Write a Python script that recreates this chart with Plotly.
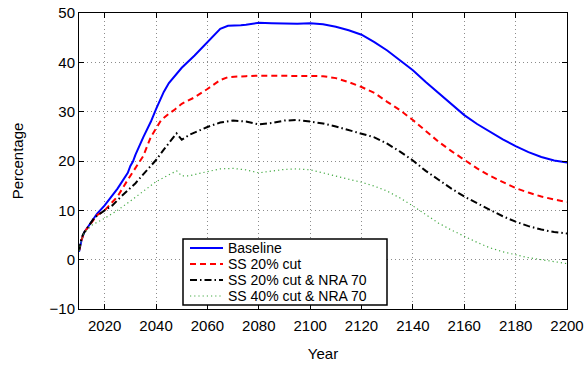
import plotly.graph_objects as go

# ---- Data -----------------------------------------------------------------
baseline_years = [2010, 2011, 2012, 2014, 2017, 2020, 2025, 2029, 2030, 2031, 2032,
                  2035, 2038, 2040, 2043, 2045, 2048, 2050, 2055, 2060, 2063, 2065,
                  2068, 2070, 2073, 2075, 2078, 2080, 2085, 2090, 2095, 2100, 2105,
                  2110, 2115, 2120, 2125, 2130, 2135, 2140, 2145, 2150, 2155, 2160,
                  2165, 2170, 2175, 2180, 2185, 2190, 2195, 2200]
baseline = [1.6, 4.0, 5.5, 7.0, 9.3, 11.0, 14.4, 17.6, 19.0, 19.9, 21.3,
            24.8, 28.0, 30.5, 34.0, 35.8, 37.8, 38.9, 41.4, 44.1, 45.8, 46.8,
            47.4, 47.4, 47.5, 47.6, 47.9, 48.0, 47.9, 47.8, 47.8, 47.9, 47.7,
            47.2, 46.5, 45.6, 44.1, 42.4, 40.4, 38.4, 36.0, 33.8, 31.5, 29.3,
            27.5, 25.9, 24.4, 23.0, 21.8, 20.8, 20.1, 19.7]

cut20_years = [2010, 2011, 2012, 2014, 2017, 2020, 2025, 2029, 2033, 2035, 2038,
               2040, 2042, 2045, 2047, 2050, 2053, 2055, 2060, 2065, 2068, 2070,
               2075, 2080, 2090, 2100, 2105, 2110, 2115, 2120, 2125, 2130, 2135,
               2140, 2145, 2150, 2155, 2160, 2165, 2170, 2175, 2180, 2185, 2190,
               2195, 2200]
cut20 = [1.8, 4.0, 5.5, 7.0, 9.0, 10.0, 12.8, 16.2, 19.5, 21.0, 24.9,
         26.5, 28.3, 29.6, 30.3, 31.6, 32.4, 32.9, 34.6, 36.4, 37.0, 37.1,
         37.2, 37.3, 37.3, 37.3, 37.2, 36.8, 36.0, 35.0, 33.8, 32.0, 30.3,
         28.3, 26.0, 23.9, 22.0, 20.2, 18.5, 17.0, 15.7, 14.5, 13.6, 12.8,
         12.2, 11.7]

cut20_nra70_years = [2010, 2011, 2012, 2014, 2016, 2020, 2023, 2026, 2029, 2032,
                     2035, 2040, 2043, 2046, 2048, 2050, 2053, 2060, 2065, 2070,
                     2075, 2080, 2085, 2090, 2095, 2100, 2105, 2110, 2115, 2120,
                     2125, 2130, 2135, 2140, 2145, 2150, 2155, 2160, 2165, 2170,
                     2175, 2180, 2185, 2190, 2195, 2200]
cut20_nra70 = [1.8, 4.5, 5.5, 7.0, 8.5, 10.0, 11.0, 12.6, 14.0, 15.5,
               17.3, 20.2, 22.3, 24.4, 25.6, 24.3, 25.3, 26.9, 27.8, 28.2,
               28.0, 27.4, 27.7, 28.2, 28.3, 28.0, 27.6, 27.0, 26.3, 25.6,
               24.8, 23.5, 21.9, 20.1, 18.0, 16.2, 14.4, 12.8, 11.4, 10.1,
               8.8, 7.7, 6.8, 6.1, 5.6, 5.3]

cut40_nra70_years = [2010, 2011, 2012, 2015, 2020, 2025, 2030, 2035, 2040, 2045,
                     2048, 2050, 2053, 2057, 2060, 2065, 2070, 2075, 2080, 2085,
                     2090, 2095, 2100, 2105, 2110, 2115, 2120, 2125, 2130, 2135,
                     2140, 2145, 2150, 2155, 2160, 2165, 2170, 2175, 2180, 2185,
                     2190, 2195, 2200]
cut40_nra70 = [1.8, 4.0, 5.4, 7.0, 8.4, 10.0, 11.9, 13.9, 15.8, 17.2,
               18.0, 17.0, 17.0, 17.5, 17.8, 18.4, 18.5, 18.2, 17.6, 17.9,
               18.3, 18.4, 18.2, 17.6, 16.9, 16.3, 15.7, 14.9, 13.9, 12.5,
               10.9, 9.1, 7.4, 6.0, 4.7, 3.5, 2.4, 1.6, 1.0, 0.4,
               0.0, -0.4, -0.8]

x_ticks = [2020, 2040, 2060, 2080, 2100, 2120, 2140, 2160, 2180, 2200]
y_ticks = [-10, 0, 10, 20, 30, 40, 50]

series = [
    ("Baseline", baseline_years, baseline, dict(color="#0000ff", width=2, dash="solid")),
    ("SS 20% cut", cut20_years, cut20, dict(color="#ff0000", width=2, dash="6px,4px")),
    ("SS 20% cut & NRA 70", cut20_nra70_years, cut20_nra70,
     dict(color="#000000", width=2, dash="7px,3px,1.5px,3px")),
    ("SS 40% cut & NRA 70", cut40_nra70_years, cut40_nra70,
     dict(color="#44aa44", width=1.2, dash="1.2px,3px")),
]

FONT = "Liberation Sans, Arial, Helvetica, sans-serif"

fig = go.Figure()
for name, xs, ys, line in series:
    fig.add_trace(go.Scatter(x=xs, y=ys, mode="lines", name=name, line=line,
                             showlegend=False))

# ---- Legend box drawn in paper coordinates ---------------------------------
L, R, T, B = 79, 567, 13, 309          # plot-area edges in pixels
W, H = R - L, B - T


def px(x):
    return (x - L) / W


def py(y):
    return (B - y) / H


shapes = [dict(type="rect", xref="paper", yref="paper",
               x0=px(183), x1=px(387), y0=py(305), y1=py(239),
               line=dict(color="black", width=1.5), fillcolor="white", layer="above")]
annotations = []
row_y = [248, 264, 280, 296]
for (name, _, _, line), ry in zip(series, row_y):
    shapes.append(dict(type="line", xref="paper", yref="paper",
                       x0=px(190), x1=px(223), y0=py(ry), y1=py(ry),
                       line=dict(color=line["color"], width=line["width"],
                                 dash=line["dash"]), layer="above"))
    annotations.append(dict(xref="paper", yref="paper", x=px(227), y=py(ry),
                            xanchor="left", yanchor="middle", showarrow=False,
                            borderpad=0,
                            text=name, font=dict(family=FONT, size=14, color="black")))

axis_common = dict(
    showline=True, linecolor="black", linewidth=1, mirror="ticks",
    ticks="inside", ticklen=5, tickcolor="black",
    showgrid=True, gridcolor="#8c8c8c", gridwidth=1, griddash="1px,3px",
    zeroline=False, automargin=False,
    tickfont=dict(family=FONT, size=15, color="black"),
)

fig.update_layout(
    width=584, height=365,
    margin=dict(l=L, r=584 - R, t=T, b=365 - B),
    paper_bgcolor="white", plot_bgcolor="white",
    font=dict(family=FONT, size=15, color="black"),
    shapes=shapes, annotations=annotations,
    xaxis=dict(range=[2010, 2200], tickvals=x_ticks, ticklabelstandoff=3,
               title=dict(text="Year", font=dict(family=FONT, size=15), standoff=15),
               **axis_common),
    yaxis=dict(range=[-10, 50], tickvals=y_ticks,
               title=dict(text="Percentage", font=dict(family=FONT, size=15), standoff=22),
               **axis_common),
)

fig.write_html("out.html")
